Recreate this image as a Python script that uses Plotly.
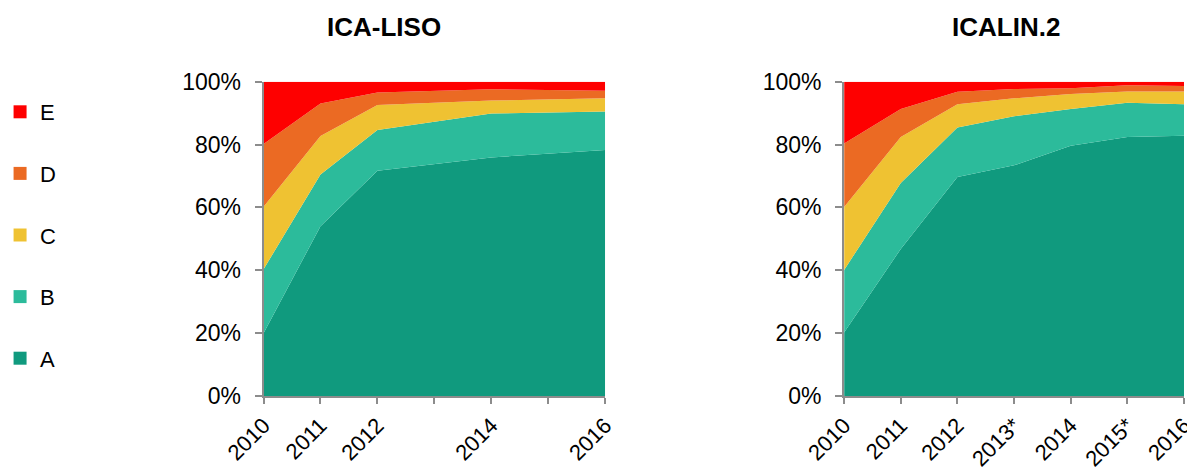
import plotly.graph_objects as go

# ---- data (percent shares) ----
series = ["A", "B", "C", "D", "E"]
colors = {"A": "#109A7E", "B": "#2CBB9B", "C": "#EFC232", "D": "#EB6A23", "E": "#FE0000"}

liso_years = [2010, 2011, 2012, 2014, 2016]
liso_A = [20.0, 54.0, 71.7, 75.9, 78.3]
liso_B = [20.3, 16.5, 12.9, 14.0, 12.2]
liso_C = [19.9, 12.2, 8.0, 4.1, 4.2]
liso_D = [20.0, 10.4, 4.0, 3.6, 2.4]
liso_E = [19.8, 6.9, 3.4, 2.4, 2.9]

icalin_years = [2010, 2011, 2012, 2013, 2014, 2015, 2016]
icalin_A = [20.2, 46.8, 69.7, 73.4, 79.6, 82.4, 82.8]
icalin_B = [19.9, 21.0, 15.7, 15.6, 11.7, 10.9, 10.0]
icalin_C = [20.0, 14.6, 7.4, 5.7, 4.8, 3.6, 4.1]
icalin_D = [20.2, 8.9, 4.0, 3.0, 1.8, 2.0, 1.7]
icalin_E = [19.7, 8.7, 3.2, 2.3, 2.1, 1.1, 1.4]

tick_years = [2010, 2011, 2012, 2013, 2014, 2015, 2016]
liso_ticktext = ["2010", "2011", "2012", "", "2014", "", "2016"]
icalin_ticktext = ["2010", "2011", "2012", "2013*", "2014", "2015*", "2016"]
y_ticks = [0, 20, 40, 60, 80, 100]
y_ticktext = ["0%", "20%", "40%", "60%", "80%", "100%"]

titles = ["ICA-LISO", "ICALIN.2"]

liso = {"A": liso_A, "B": liso_B, "C": liso_C, "D": liso_D, "E": liso_E}
icalin = {"A": icalin_A, "B": icalin_B, "C": icalin_C, "D": icalin_D, "E": icalin_E}

W, H = 1187, 467
FONT = "Liberation Sans, Arial, sans-serif"
AXIS_COLOR = "#8c8c8c"

fig = go.Figure()

for s in series:
    fig.add_trace(go.Scatter(
        x=liso_years, y=liso[s], name=s, mode="none", stackgroup="liso",
        fillcolor=colors[s], line=dict(width=0), showlegend=False,
        xaxis="x", yaxis="y"))
for s in series:
    fig.add_trace(go.Scatter(
        x=icalin_years, y=icalin[s], name=s, mode="none", stackgroup="icalin",
        fillcolor=colors[s], line=dict(width=0), showlegend=False,
        xaxis="x2", yaxis="y2"))

# legend entries (square markers), E on top
for s in reversed(series):
    fig.add_trace(go.Scatter(
        x=[None], y=[None], name=s, mode="markers", legendgroup=s,
        marker=dict(symbol="square", size=13, color=colors[s]),
        xaxis="x", yaxis="y"))

def px_x(p):
    return p / W

def px_y(p):
    return 1 - p / H

ydomain = [px_y(396), px_y(81.7)]

common_x = dict(
    range=[2010, 2016], tickmode="array", tickvals=tick_years,
    tickangle=-45, ticks="outside", ticklen=6, tickwidth=2, tickcolor=AXIS_COLOR,
    showline=True, linecolor=AXIS_COLOR, linewidth=2, showgrid=False, zeroline=False,
    tickfont=dict(family=FONT, size=22, color="#000000"), automargin=False,
    ticklabeloverflow="allow", fixedrange=True)
common_y = dict(
    range=[0, 100], tickmode="array", tickvals=y_ticks, ticktext=y_ticktext,
    ticks="outside", ticklen=7, tickwidth=2, tickcolor=AXIS_COLOR,
    showline=True, linecolor=AXIS_COLOR, linewidth=2, showgrid=False, zeroline=False,
    tickfont=dict(family=FONT, size=23, color="#000000"), automargin=False,
    ticklabelstandoff=9, domain=ydomain, fixedrange=True)

fig.update_layout(
    width=W, height=H,
    margin=dict(l=0, r=0, t=0, b=0),
    paper_bgcolor="white", plot_bgcolor="white",
    font=dict(family=FONT, size=21, color="#000000"),
    xaxis=dict(common_x, domain=[px_x(256.5), px_x(600.7)], ticktext=liso_ticktext, anchor="y"),
    yaxis=dict(common_y, anchor="x"),
    xaxis2=dict(common_x, domain=[px_x(841.5), px_x(1184)], ticktext=icalin_ticktext, anchor="y2"),
    yaxis2=dict(common_y, anchor="x2"),
    legend=dict(x=-9 / W, y=px_y(91), xanchor="left", yanchor="top",
                tracegroupgap=30, itemwidth=30,
                font=dict(family=FONT, size=22, color="#000000"),
                bgcolor="rgba(0,0,0,0)"),
    showlegend=True,
    annotations=[
        dict(text="<b>%s</b>" % titles[0], x=px_x(378), y=px_y(27), xref="paper", yref="paper",
             xanchor="center", yanchor="middle", showarrow=False,
             font=dict(family=FONT, size=26, color="#000000")),
        dict(text="<b>%s</b>" % titles[1], x=px_x(1005), y=px_y(27), xref="paper", yref="paper",
             xanchor="center", yanchor="middle", showarrow=False,
             font=dict(family=FONT, size=26, color="#000000")),
    ],
)

fig.write_html(
    "out.html",
    config={"displayModeBar": False},
    post_script="document.body.style.margin='0';document.body.style.overflow='hidden';",
)
